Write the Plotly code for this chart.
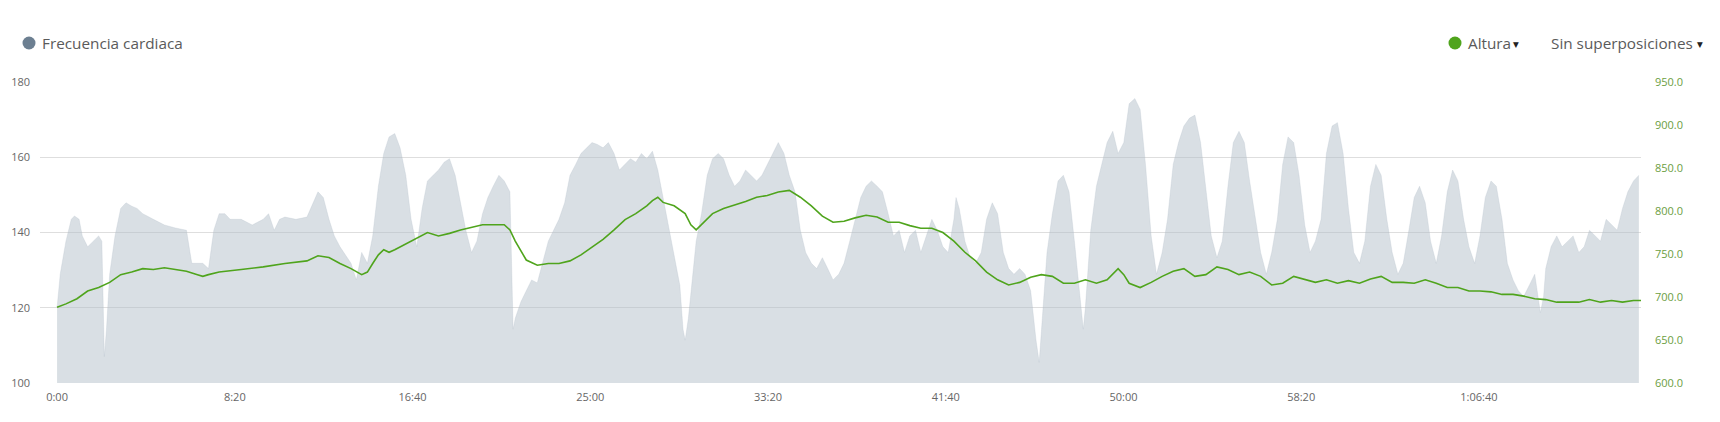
import plotly.graph_objects as go

# ---------------- data ----------------
hr_time = [0, 9, 25, 40, 49, 62, 71, 86, 102, 117, 126, 133, 139, 148, 163, 179, 194, 210, 225, 241,
           271, 302, 333, 364, 379, 410, 426, 441, 456, 472, 487, 518, 549, 580, 595, 611, 626, 641,
           672, 703, 734, 749, 765, 780, 796, 827, 842, 857, 873, 888, 904, 919, 934, 950, 965, 981,
           996, 1012, 1027, 1042, 1058, 1073, 1089, 1104, 1120, 1135, 1150, 1166, 1181, 1197, 1212,
           1227, 1243, 1258, 1274, 1283, 1289, 1305, 1320, 1335, 1351, 1366, 1382, 1397, 1412, 1428,
           1443, 1459, 1474, 1490, 1505, 1520, 1536, 1551, 1567, 1582, 1598, 1613, 1628, 1644, 1659,
           1675, 1690, 1705, 1721, 1736, 1752, 1761, 1767, 1776, 1789, 1798, 1813, 1829, 1844, 1860,
           1875, 1891, 1906, 1921, 1937, 1952, 1968, 1983, 1998, 2014, 2029, 2045, 2060, 2076, 2091,
           2106, 2122, 2137, 2153, 2168, 2183, 2199, 2214, 2230, 2245, 2261, 2276, 2291, 2307, 2322,
           2338, 2353, 2369, 2384, 2399, 2415, 2430, 2446, 2461, 2476, 2492, 2507, 2523, 2529, 2538,
           2554, 2569, 2584, 2600, 2615, 2631, 2646, 2662, 2677, 2692, 2708, 2723, 2739, 2754, 2763,
           2769, 2785, 2800, 2816, 2831, 2847, 2862, 2877, 2887, 2893, 2908, 2924, 2939, 2954, 2970,
           2985, 3001, 3016, 3032, 3047, 3062, 3078, 3093, 3109, 3124, 3140, 3155, 3170, 3186, 3201,
           3217, 3232, 3247, 3263, 3278, 3294, 3309, 3325, 3340, 3355, 3371, 3386, 3402, 3417, 3433,
           3448, 3463, 3479, 3494, 3510, 3525, 3540, 3556, 3571, 3587, 3602, 3618, 3633, 3648, 3664,
           3679, 3695, 3710, 3725, 3741, 3756, 3772, 3787, 3803, 3818, 3833, 3849, 3864, 3880, 3895,
           3911, 3926, 3941, 3957, 3972, 3988, 4003, 4018, 4034, 4049, 4065, 4080, 4096, 4111, 4126,
           4142, 4157, 4173, 4182, 4188, 4203, 4219, 4234, 4250, 4265, 4281, 4296, 4311, 4327, 4342,
           4358, 4373, 4389, 4404, 4419, 4435, 4450]
hr_bpm = [120, 129, 137.7, 143.5, 144.4, 143.5, 139.1, 136.2, 137.7, 139.1, 137.7, 107, 114.3, 128.9,
          139.1, 146.4, 147.9, 147, 146.4, 145, 143.5, 142, 141.2, 140.6, 131.8, 131.8, 130.4, 140.6,
          145, 145, 143.5, 143.5, 142, 143.5, 145, 140.6, 143.5, 144.1, 143.5, 144.1, 150.8, 149.3,
          143.5, 139.1, 136.2, 131.8, 127.4, 134.7, 131.8, 139.1, 152.3, 161, 165.4, 166.3, 162.5,
          155.2, 143.5, 136.2, 146.4, 153.7, 155.2, 156.6, 158.7, 159.6, 155.2, 147.9, 140.6, 134.7,
          137.7, 145, 149.3, 152.3, 155.2, 153.7, 150.8, 114.3, 117.2, 121.6, 124.5, 127.4, 126.6,
          131.8, 137.7, 140.6, 143.5, 147.9, 155.2, 158.1, 161, 162.5, 163.9, 163.4, 162.5, 163.9,
          161, 156.6, 158.1, 159.6, 158.7, 161, 159.6, 161.6, 156.6, 149.3, 142, 134.7, 126, 114.3,
          111.4, 117.2, 128.9, 137.7, 145, 155.2, 159.6, 161, 159.6, 155.2, 152.3, 153.7, 156.6,
          155.2, 153.7, 155.2, 158.1, 161, 163.9, 161, 155.2, 150.8, 140.6, 134.7, 131.8, 130.4,
          133.3, 130.4, 127.4, 128.9, 131.8, 137.7, 143.5, 149.3, 152.3, 153.7, 152.3, 150.8, 145,
          139.1, 140.6, 134.7, 139.1, 140.6, 134.7, 139.1, 143.5, 140.6, 136.2, 134.7, 143.5, 149.3,
          146.4, 137.7, 133.3, 131.8, 134.7, 143.5, 147.9, 145, 134.7, 130.4, 128.9, 130.4, 128.9,
          124.5, 111.4, 105.5, 114.3, 134.7, 145, 153.7, 155.2, 150.8, 137.7, 124.5, 114.3, 120.1,
          140.6, 152.3, 158.1, 163.9, 166.9, 161, 163.9, 174.2, 175.6, 172.7, 158.1, 139.1, 128.9,
          134.7, 143.5, 158.1, 163.9, 168.3, 170.4, 171.2, 163.9, 150.8, 139.1, 133.3, 137.7, 152.3,
          163.9, 166.9, 163.9, 153.7, 143.5, 134.7, 128.9, 134.7, 143.5, 158.1, 165.4, 163.9, 155.2,
          142, 134.7, 137.7, 143.5, 161, 168.3, 169.2, 161, 146.4, 134.7, 131.8, 137.7, 152.3, 158.1,
          155.2, 143.5, 134.7, 128.9, 131.8, 140.6, 149.3, 152.3, 147.9, 137.7, 131.8, 139.1, 150.8,
          156.6, 153.7, 143.5, 136.2, 131.8, 139.1, 149.3, 153.7, 152.3, 143.5, 131.8, 127.4, 124.5,
          123, 126, 128.9, 118.7, 123, 130.4, 136.2, 139.1, 136.2, 137.7, 139.1, 134.7, 136.2, 140.6,
          139.1, 137.7, 143.5, 142, 140.6, 146.4, 150.8, 153.7, 155.2]

alt_time = [0, 25, 56, 86, 117, 148, 179, 210, 241, 271, 302, 333, 364, 395, 410, 426, 456, 518, 580,
            641, 703, 734, 765, 796, 827, 857, 873, 888, 904, 919, 934, 950, 981, 1012, 1042, 1073,
            1104, 1135, 1166, 1197, 1227, 1258, 1274, 1289, 1320, 1351, 1382, 1412, 1443, 1474, 1505,
            1536, 1567, 1598, 1628, 1659, 1675, 1690, 1705, 1736, 1767, 1783, 1798, 1813, 1844, 1875,
            1906, 1937, 1968, 1998, 2029, 2060, 2091, 2122, 2153, 2183, 2214, 2245, 2276, 2307, 2338,
            2369, 2399, 2430, 2461, 2492, 2523, 2554, 2584, 2615, 2646, 2677, 2708, 2739, 2769, 2800,
            2831, 2862, 2893, 2924, 2954, 2985, 3001, 3016, 3047, 3078, 3109, 3140, 3170, 3201, 3232,
            3263, 3294, 3325, 3355, 3386, 3417, 3448, 3479, 3510, 3540, 3571, 3602, 3633, 3664, 3695,
            3725, 3756, 3787, 3818, 3849, 3880, 3911, 3941, 3972, 4003, 4034, 4065, 4096, 4126, 4157,
            4188, 4219, 4250, 4281, 4311, 4342, 4373, 4404, 4435, 4456]
alt_m = [688, 692, 698, 707, 711, 717, 726, 729, 733, 732, 734, 732, 730, 726, 724, 726, 729, 732, 735,
         739, 742, 748, 746, 739, 733, 726, 729, 739, 749, 755, 752, 755, 762, 769, 775, 771, 774, 778,
         781, 784, 784, 784, 778, 765, 743, 737, 739, 739, 742, 749, 758, 767, 778, 790, 797, 806, 812,
         816, 810, 806, 797, 784, 778, 784, 797, 803, 807, 811, 816, 818, 822, 824, 816, 806, 794, 787,
         788, 792, 795, 793, 787, 787, 783, 780, 780, 775, 765, 752, 742, 729, 720, 714, 717, 723, 726,
         724, 716, 716, 720, 716, 720, 733, 726, 716, 711, 717, 724, 730, 733, 724, 726, 735, 732, 726,
         729, 724, 714, 716, 724, 720, 717, 720, 716, 719, 716, 721, 724, 717, 717, 716, 720, 716, 711,
         711, 707, 707, 706, 703, 703, 701, 698, 697, 694, 694, 694, 697, 694, 696, 694, 696, 696]

x_tick_vals = [0, 500, 1000, 1500, 2000, 2500, 3000, 3500, 4000]
x_tick_text = ["0:00", "8:20", "16:40", "25:00", "33:20", "41:40", "50:00", "58:20", "1:06:40"]
hr_ticks = [100, 120, 140, 160, 180]
alt_ticks = [600, 650, 700, 750, 800, 850, 900, 950]

# ---------------- figure ----------------
FONT = "Open Sans"
W, H = 1712, 414  # page body adds an 8px margin
PL, PR, PT, PB = 32, 1633, 74, 375  # plot area in figure pixels

fig = go.Figure()

fig.add_trace(go.Scatter(
    x=hr_time, y=hr_bpm, mode="lines", fill="tozeroy",
    line=dict(color="rgba(176,188,199,0.5)", width=0.5),
    fillcolor="rgba(176,188,199,0.48)", hoverinfo="skip", showlegend=False,
))
fig.add_trace(go.Scatter(
    x=alt_time, y=alt_m, mode="lines", yaxis="y2",
    line=dict(color="#4fa41c", width=1.6), hoverinfo="skip", showlegend=False,
))

fig.update_layout(
    width=W, height=H,
    margin=dict(l=PL, r=W - PR, t=PT, b=H - PB, pad=0, autoexpand=False),
    paper_bgcolor="white", plot_bgcolor="white",
    font=dict(family=FONT, size=11, color="#666666"),
    showlegend=False,
    xaxis=dict(
        range=[-48, 4456], tickvals=x_tick_vals, ticktext=x_tick_text, automargin=False,
        showgrid=False, zeroline=False, showline=False, ticks="",
        ticklabelstandoff=6, tickfont=dict(family=FONT, size=11, color="#666666"),
    ),
    yaxis=dict(
        range=[100, 180], tickvals=hr_ticks, showgrid=True, gridcolor="#dedede", gridwidth=1,
        zeroline=False, showline=False, ticks="", ticklabelstandoff=9, automargin=False,
        tickfont=dict(family=FONT, size=11, color="#666666"),
    ),
    yaxis2=dict(
        range=[600, 950], tickvals=alt_ticks, ticktext=[f"{v:.1f}" for v in alt_ticks],
        overlaying="y", side="right", showgrid=False, zeroline=False, showline=False,
        automargin=False,
        ticks="", ticklabelstandoff=13, tickfont=dict(family=FONT, size=11, color="#6b9e3f"),
    ),
)

def px_x(p):  # page pixel -> paper
    return (p - 8 - PL) / float(PR - PL)

def px_y(p):
    return (PB - (p - 8)) / float(PB - PT)

# legend dots
for cx, col in [(29, "#6c7f91"), (1455, "#4fa41c")]:
    fig.add_shape(type="circle", xref="paper", yref="paper",
                  xsizemode="pixel", ysizemode="pixel",
                  xanchor=px_x(cx), yanchor=px_y(43),
                  x0=-6.5, x1=6.5, y0=-6.5, y1=6.5,
                  fillcolor=col, line=dict(width=0))

labels = [(40, "Frecuencia cardiaca"), (1466, "Altura"), (1549, "Sin superposiciones")]
for lx, txt in labels:
    fig.add_annotation(text=txt, xref="paper", yref="paper", x=px_x(lx), y=px_y(43),
                       xanchor="left", yanchor="middle", showarrow=False,
                       font=dict(family=FONT, size=15.3, color="#5a5a5a"))
for tx in [1516, 1700]:
    fig.add_annotation(text="▼", xref="paper", yref="paper", x=px_x(tx), y=px_y(44),
                       xanchor="center", yanchor="middle", showarrow=False,
                       font=dict(family="DejaVu Sans", size=7.5, color="#222222"))

fig.write_html("out.html")
